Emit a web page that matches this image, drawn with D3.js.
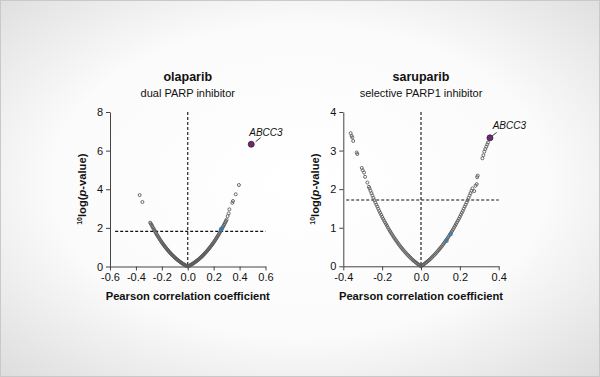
<!DOCTYPE html>
<html>
<head>
<meta charset="utf-8">
<script src="https://cdn.jsdelivr.net/npm/d3@7"></script>
<style>
html,body{margin:0;padding:0;background:#fff;}
svg{display:block;font-family:"Liberation Sans",Arial,Helvetica,sans-serif;}
</style>
</head>
<body>
<svg id="chart" width="600" height="377"></svg>
<script>
// ---------- DATA ----------
const panelTitles = ["olaparib", "saruparib"];
const panelSubtitles = ["dual PARP inhibitor", "selective PARP1 inhibitor"];
const xTicksOla = [-0.6, -0.4, -0.2, 0.0, 0.2, 0.4, 0.6];
const yTicksOla = [0, 2, 4, 6, 8];
const xTicksSaru = [-0.4, -0.2, 0.0, 0.2, 0.4];
const yTicksSaru = [0, 1, 2, 3, 4];
const thresholdOla = 1.82;
const thresholdSaru = 1.72;
const highlightLabel = "ABCC3";
const highlightOla = [0.49, 6.33];
const highlightSaru = [0.355, 3.33];

// olaparib: [pearson r, -log10 p]
const olaNeg = [[-0.005,0.02],[-0.01,0.035],[-0.015,0.05],[-0.02,0.07],[-0.025,0.09],[-0.03,0.11],[-0.035,0.13],[-0.04,0.15],[-0.045,0.17],[-0.05,0.2],[-0.055,0.22],[-0.06,0.245],[-0.065,0.27],[-0.07,0.3],[-0.075,0.32],[-0.08,0.35],[-0.085,0.38],[-0.09,0.405],[-0.095,0.435],[-0.1,0.465],[-0.105,0.5],[-0.11,0.53],[-0.115,0.56],[-0.12,0.595],[-0.125,0.63],[-0.13,0.665],[-0.135,0.7],[-0.14,0.74],[-0.145,0.775],[-0.15,0.815],[-0.155,0.855],[-0.16,0.895],[-0.165,0.935],[-0.17,0.98],[-0.175,1.02],[-0.18,1.065],[-0.185,1.11],[-0.19,1.155],[-0.195,1.2],[-0.2,1.25],[-0.205,1.3],[-0.21,1.35],[-0.215,1.4],[-0.22,1.455],[-0.225,1.51],[-0.23,1.56],[-0.235,1.615],[-0.24,1.67],[-0.245,1.73],[-0.25,1.79],[-0.255,1.85],[-0.26,1.91],[-0.265,1.97],[-0.27,2.03],[-0.275,2.1],[-0.28,2.16],[-0.285,2.22],[-0.29,2.27],[-0.35,3.34],[-0.371,3.7]];
const olaPos = [[0,0],[0.005,0.017],[0.01,0.034],[0.015,0.052],[0.02,0.07],[0.025,0.09],[0.03,0.11],[0.035,0.13],[0.04,0.15],[0.045,0.173],[0.05,0.197],[0.055,0.22],[0.06,0.245],[0.065,0.27],[0.07,0.295],[0.075,0.322],[0.08,0.349],[0.085,0.377],[0.09,0.405],[0.095,0.435],[0.1,0.465],[0.105,0.496],[0.11,0.527],[0.115,0.56],[0.12,0.595],[0.125,0.63],[0.13,0.664],[0.135,0.7],[0.14,0.737],[0.145,0.776],[0.15,0.815],[0.155,0.854],[0.16,0.893],[0.165,0.935],[0.17,0.978],[0.175,1.022],[0.18,1.066],[0.185,1.11],[0.19,1.155],[0.195,1.2],[0.2,1.25],[0.205,1.3],[0.21,1.35],[0.215,1.4],[0.22,1.455],[0.225,1.51],[0.23,1.56],[0.235,1.615],[0.24,1.67],[0.245,1.73],[0.25,1.79],[0.255,1.85],[0.26,1.91],[0.265,1.97],[0.27,2.03],[0.275,2.095],[0.28,2.16],[0.285,2.225],[0.29,2.29],[0.295,2.36],[0.3,2.43],[0.308,2.61],[0.316,2.75],[0.321,2.96],[0.344,3.3],[0.349,3.39],[0.37,3.74],[0.395,4.22]];
const olaBlue = [[0.255,1.9],[0.259,1.96]];

// saruparib: [pearson r, -log10 p]
const saruNeg = [[-0.005,0.017],[-0.01,0.035],[-0.015,0.053],[-0.02,0.072],[-0.025,0.092],[-0.03,0.113],[-0.035,0.133],[-0.04,0.154],[-0.045,0.177],[-0.05,0.202],[-0.055,0.226],[-0.06,0.251],[-0.065,0.277],[-0.07,0.302],[-0.075,0.33],[-0.08,0.358],[-0.085,0.386],[-0.09,0.415],[-0.095,0.446],[-0.1,0.477],[-0.105,0.508],[-0.11,0.54],[-0.115,0.574],[-0.12,0.61],[-0.125,0.646],[-0.13,0.681],[-0.135,0.718],[-0.14,0.755],[-0.145,0.795],[-0.15,0.835],[-0.155,0.875],[-0.16,0.915],[-0.165,0.958],[-0.17,1.002],[-0.175,1.048],[-0.18,1.093],[-0.185,1.138],[-0.19,1.184],[-0.195,1.23],[-0.2,1.281],[-0.205,1.333],[-0.21,1.384],[-0.215,1.435],[-0.22,1.491],[-0.225,1.548],[-0.23,1.599],[-0.235,1.655],[-0.24,1.712],[-0.245,1.773],[-0.25,1.835],[-0.255,1.896],[-0.26,1.958],[-0.265,2.02],[-0.268,2.06],[-0.276,2.17],[-0.288,2.32],[-0.293,2.43],[-0.3,2.49],[-0.305,2.55],[-0.328,2.91],[-0.331,2.95],[-0.349,3.25],[-0.354,3.34],[-0.357,3.38],[-0.362,3.45]];
const saruPos = [[0,0],[0.005,0.017],[0.01,0.035],[0.015,0.053],[0.02,0.072],[0.025,0.092],[0.03,0.113],[0.035,0.133],[0.04,0.154],[0.045,0.177],[0.05,0.202],[0.055,0.226],[0.06,0.251],[0.065,0.277],[0.07,0.302],[0.075,0.33],[0.08,0.358],[0.085,0.386],[0.09,0.415],[0.095,0.446],[0.1,0.477],[0.105,0.508],[0.11,0.54],[0.115,0.574],[0.12,0.61],[0.125,0.646],[0.13,0.681],[0.135,0.718],[0.14,0.755],[0.145,0.795],[0.15,0.835],[0.155,0.875],[0.16,0.915],[0.165,0.958],[0.17,1.002],[0.175,1.048],[0.18,1.093],[0.185,1.138],[0.19,1.184],[0.195,1.23],[0.2,1.281],[0.205,1.333],[0.21,1.384],[0.215,1.435],[0.22,1.491],[0.225,1.548],[0.23,1.599],[0.235,1.655],[0.24,1.712],[0.245,1.773],[0.25,1.835],[0.255,1.896],[0.26,1.958],[0.265,2.02],[0.274,1.95],[0.281,2.09],[0.287,2.13],[0.289,2.31],[0.292,2.35],[0.316,2.8],[0.321,2.88],[0.326,2.97],[0.331,3.04],[0.336,3.1],[0.341,3.16],[0.345,3.21]];
const saruBlue = [[0.132,0.66],[0.153,0.83]];

// ---------- DRAW ----------
const svg = d3.select("#chart");
const defs = svg.append("defs");
const grad = defs.append("radialGradient").attr("id","bg")
  .attr("cx","50%").attr("cy","48%").attr("r","75%");
grad.append("stop").attr("offset","0%").attr("stop-color","#ffffff");
grad.append("stop").attr("offset","55%").attr("stop-color","#fbfbfb");
grad.append("stop").attr("offset","100%").attr("stop-color","#dadada");
svg.append("rect").attr("width",600).attr("height",377).attr("fill","url(#bg)");
svg.append("rect").attr("x",0.5).attr("y",0.5).attr("width",599).attr("height",376)
  .attr("fill","none").attr("stroke","#c9c9c9");

const panels = [
  {title:panelTitles[0], sub:panelSubtitles[0], xd:[-0.6,0.6], yd:[0,8], xr:[110,265.5], yr:[266.5,112],
   xt:xTicksOla, yt:yTicksOla, th:thresholdOla, thStart:-0.56, pts:[olaNeg,olaPos], blue:olaBlue,
   hi:highlightOla, lab:{dx:-2, dy:-8.3, x1:4.4, y1:-2.6, x2:9.4, y2:-6.6}},
  {title:panelTitles[1], sub:panelSubtitles[1], xd:[-0.4,0.4], yd:[0,4], xr:[343.3,498.7], yr:[266.3,112],
   xt:xTicksSaru, yt:yTicksSaru, th:thresholdSaru, thStart:-0.385, pts:[saruNeg,saruPos], blue:saruBlue,
   hi:highlightSaru, lab:{dx:2.7, dy:-8.7, x1:2.3, y1:-2, x2:6.7, y2:-5.4}}
];

panels.forEach(p => {
  const x = d3.scaleLinear().domain(p.xd).range(p.xr);
  const y = d3.scaleLinear().domain(p.yd).range(p.yr);
  const g = svg.append("g");
  const cx = (p.xr[0]+p.xr[1])/2;

  g.append("text").attr("x",cx).attr("y",81).attr("text-anchor","middle")
    .attr("font-size",12.5).attr("font-weight","bold").attr("fill","#111").text(p.title);
  g.append("text").attr("x",cx).attr("y",96.5).attr("text-anchor","middle")
    .attr("font-size",11).attr("fill","#111").text(p.sub);

  // axes
  const xa = g.append("g").attr("transform",`translate(0,${p.yr[0]})`)
    .call(d3.axisBottom(x).tickValues(p.xt).tickSize(4).tickSizeOuter(0).tickPadding(3)
      .tickFormat(d => d3.format(".1f")(d).replace("−","-")));
  const ya = g.append("g").attr("transform",`translate(${p.xr[0]},0)`)
    .call(d3.axisLeft(y).tickValues(p.yt).tickSize(4).tickSizeOuter(0).tickPadding(3)
      .tickFormat(d3.format("d")));
  [xa,ya].forEach(a => {
    a.select(".domain").attr("stroke","#444").attr("stroke-width",1);
    a.selectAll(".tick line").attr("stroke","#444");
    a.selectAll(".tick text").attr("font-size",11).attr("fill","#111")
      .attr("font-family","'Liberation Sans',Arial,sans-serif");
  });

  // dashed reference lines
  g.append("line").attr("x1",x(0)).attr("x2",x(0)).attr("y1",y(p.yd[1])).attr("y2",y(0))
    .attr("stroke","#111").attr("stroke-width",1.1).attr("stroke-dasharray","3,2");
  g.append("line").attr("x1",x(p.thStart)).attr("x2",x(p.xd[1])).attr("y1",y(p.th)).attr("y2",y(p.th))
    .attr("stroke","#111").attr("stroke-width",1.1).attr("stroke-dasharray","3,2");

  // points
  const all = p.pts[0].concat(p.pts[1]);
  g.append("g").selectAll("circle").data(all).join("circle")
    .attr("cx",d=>x(d[0])).attr("cy",d=>y(d[1])).attr("r",1.5)
    .attr("fill","none").attr("stroke","#5a5a5a").attr("stroke-width",0.9);
  g.append("g").selectAll("circle").data(p.blue).join("circle")
    .attr("cx",d=>x(d[0])).attr("cy",d=>y(d[1])).attr("r",1.5)
    .attr("fill","none").attr("stroke","#2f7fb5").attr("stroke-width",1.1);

  // highlight
  const hx = x(p.hi[0]), hy = y(p.hi[1]);
  g.append("circle").attr("cx",hx).attr("cy",hy).attr("r",3)
    .attr("fill","#6d2a6f").attr("stroke","#3a1a3a").attr("stroke-width",0.8);
  g.append("line").attr("x1",hx+p.lab.x1).attr("y1",hy+p.lab.y1).attr("x2",hx+p.lab.x2).attr("y2",hy+p.lab.y2)
    .attr("stroke","#222").attr("stroke-width",0.9);
  g.append("text").attr("x",hx+p.lab.dx).attr("y",hy+p.lab.dy).attr("font-size",10)
    .attr("font-style","italic").attr("fill","#111").text(highlightLabel);

  // axis titles
  g.append("text").attr("x",cx).attr("y",299.5).attr("text-anchor","middle")
    .attr("font-size",11.2).attr("font-weight","bold").attr("fill","#111").text("Pearson correlation coefficient");
  const yt = g.append("text").attr("transform",`translate(${p.xr[0]-24},${(p.yr[0]+p.yr[1])/2}) rotate(-90)`)
    .attr("text-anchor","middle").attr("font-size",11.2).attr("font-weight","bold").attr("fill","#111");
  yt.append("tspan").attr("font-size",7).attr("dy",-4).text("10");
  yt.append("tspan").attr("dy",4).text("log(");
  yt.append("tspan").attr("font-style","italic").text("p");
  yt.append("tspan").text("-value)");
});
</script>
</body>
</html>
